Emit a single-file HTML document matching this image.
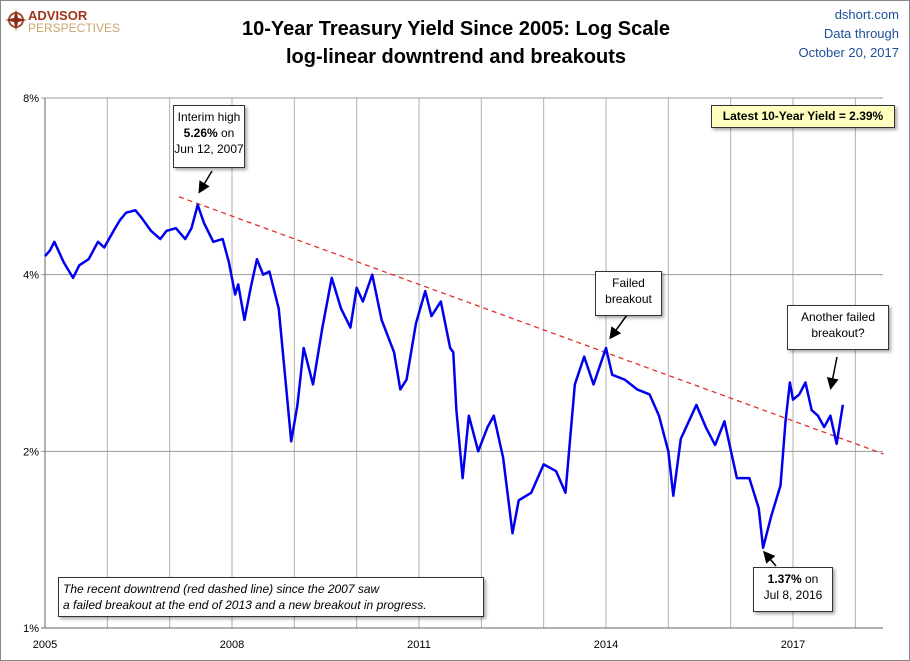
<!DOCTYPE html>
<html><head><meta charset="utf-8"><style>
body{margin:0;background:#fff;font-family:"Liberation Sans",sans-serif}
#c{position:absolute;left:0;top:0;width:908px;height:659px;border:1px solid #888;overflow:hidden}
.box{position:absolute;background:#fff;border:1px solid #333;font-size:12px;text-align:center;line-height:16px;box-shadow:2px 2px 3px rgba(0,0,0,.35)}
</style></head><body>
<div id="c">
<svg width="910" height="661" style="position:absolute;left:0;top:0">
<g>
<circle cx="15" cy="19" r="7" fill="none" stroke="#a0522d" stroke-width="2"/>
<path d="M15 8 L17 17 L26 19 L17 21 L15 30 L13 21 L4 19 L13 17 Z" fill="#8b2a1a"/>
<text x="27" y="19" font-size="13" font-weight="bold" fill="#a0351e">ADVISOR</text>
<text x="27" y="31" font-size="12" fill="#c9a66b">PERSPECTIVES</text>
</g>
<text x="455" y="34" text-anchor="middle" font-size="20" font-weight="bold" fill="#000">10-Year Treasury Yield Since 2005: Log Scale</text>
<text x="455" y="62" text-anchor="middle" font-size="20" font-weight="bold" fill="#000">log-linear downtrend and breakouts</text>
<text x="898" y="18" text-anchor="end" font-size="13" fill="#1f4e9a">dshort.com</text>
<text x="898" y="37" text-anchor="end" font-size="13" fill="#1f4e9a">Data through</text>
<text x="898" y="56" text-anchor="end" font-size="13" fill="#1f4e9a">October 20, 2017</text>
<g id="grid"></g><g id="axes"></g><g id="series"></g>
<defs><marker id="ah" markerWidth="8" markerHeight="8" refX="6" refY="4" orient="auto"><path d="M0,0 L8,4 L0,8 Z" fill="#000"/></marker></defs>
<g stroke="#000" stroke-width="1.5" marker-end="url(#ah)">
<line x1="211" y1="170" x2="199" y2="190"/>
<line x1="626" y1="314" x2="610" y2="336"/>
<line x1="836" y1="356" x2="830" y2="386"/>
<line x1="775" y1="565" x2="764" y2="552"/>
</g>
</svg>
<div class="box" style="left:172px;top:104px;width:70px;height:58px;padding-top:3px">Interim high<br><b>5.26%</b> on<br>Jun 12, 2007</div>
<div class="box" style="left:594px;top:270px;width:65px;height:40px;padding-top:3px">Failed<br>breakout</div>
<div class="box" style="left:786px;top:304px;width:100px;height:40px;padding-top:3px">Another failed<br>breakout?</div>
<div class="box" style="left:752px;top:566px;width:78px;height:40px;padding-top:3px"><b>1.37%</b> on<br>Jul 8, 2016</div>
<div class="box" style="left:710px;top:104px;width:182px;height:21px;line-height:21px;background:#ffffc0;font-weight:bold;font-size:12px">Latest 10-Year Yield = 2.39%</div>
<div class="box" style="left:57px;top:576px;width:426px;height:40px;padding-top:3px;text-align:left;padding-left:4px;font-style:italic;font-size:12px;box-sizing:border-box">The recent downtrend (red dashed line) since the 2007 saw<br>a failed breakout at the end of 2013 and a new breakout in progress.</div>
</div>
<script>
const dates=[2005.0,2005.08,2005.15,2005.3,2005.45,2005.55,2005.7,2005.85,2005.95,2006.1,2006.2,2006.3,2006.45,2006.55,2006.7,2006.85,2006.95,2007.1,2007.25,2007.35,2007.45,2007.55,2007.7,2007.85,2007.95,2008.05,2008.1,2008.2,2008.3,2008.4,2008.5,2008.6,2008.75,2008.85,2008.95,2009.05,2009.15,2009.3,2009.45,2009.6,2009.75,2009.9,2010.0,2010.1,2010.25,2010.4,2010.6,2010.7,2010.8,2010.95,2011.1,2011.2,2011.35,2011.5,2011.55,2011.6,2011.7,2011.8,2011.95,2012.1,2012.2,2012.35,2012.5,2012.6,2012.8,2013.0,2013.2,2013.35,2013.5,2013.65,2013.8,2014.0,2014.1,2014.3,2014.5,2014.7,2014.85,2015.0,2015.08,2015.2,2015.45,2015.6,2015.75,2015.9,2016.1,2016.3,2016.45,2016.52,2016.65,2016.8,2016.88,2016.95,2017.0,2017.1,2017.2,2017.3,2017.4,2017.5,2017.6,2017.7,2017.8];
const yields=[4.3,4.4,4.55,4.2,3.95,4.15,4.25,4.55,4.45,4.75,4.95,5.1,5.15,5.0,4.75,4.6,4.75,4.8,4.6,4.8,5.26,4.9,4.55,4.6,4.2,3.7,3.85,3.35,3.8,4.25,4.0,4.05,3.5,2.7,2.08,2.4,3.0,2.6,3.25,3.95,3.5,3.25,3.8,3.6,4.0,3.35,2.95,2.55,2.65,3.3,3.75,3.4,3.6,3.0,2.95,2.35,1.8,2.3,2.0,2.2,2.3,1.95,1.45,1.65,1.7,1.9,1.85,1.7,2.6,2.9,2.6,3.0,2.7,2.65,2.55,2.5,2.3,2.0,1.68,2.1,2.4,2.2,2.05,2.25,1.8,1.8,1.6,1.37,1.55,1.75,2.25,2.62,2.45,2.5,2.62,2.35,2.3,2.2,2.3,2.06,2.4];
const trendDates=[2007.15,2018.45];
const trendYields=[5.43,1.98];
const yTicks=[1,2,4,8];
const yTickLabels=["1%","2%","4%","8%"];
const xTicks=[2005,2008,2011,2014,2017];
const NS='http://www.w3.org/2000/svg';
const X0=44,X1=882,Y8=97,Y1=627;
function xs(d){return X0+(d-2005)*(605-44)/9;}
function ys(v){return Y1-(Math.log2(v))*(Y1-Y8)/3;}
function mk(t,a,p){const e=document.createElementNS(NS,t);for(const k in a)e.setAttribute(k,a[k]);p.appendChild(e);return e;}
const grid=document.getElementById('grid'),axes=document.getElementById('axes'),series=document.getElementById('series');
for(let yr=2005;yr<=2018;yr++){const l=mk('line',{x1:xs(yr),x2:xs(yr),y1:Y8,y2:Y1,stroke:'#b0b0b0','stroke-width':1},grid);

}
yTicks.forEach((v,i)=>{const l=mk('line',{x1:X0-4,x2:X1,y1:ys(v),y2:ys(v),stroke:i==0?'#666':'#999','stroke-width':1},grid);


const t=mk('text',{x:X0-6,y:ys(v)+4,'text-anchor':'end','font-size':11,fill:'#000'},axes);t.textContent=yTickLabels[i];

});
mk('line',{x1:X0,x2:X0,y1:Y8,y2:Y1,stroke:'#666'},axes);
xTicks.forEach(d=>{const t=mk('text',{x:xs(d),y:Y1+20,'text-anchor':'middle','font-size':11,fill:'#000'},axes);t.textContent=String(d);

});
const tr=mk('line',{x1:xs(trendDates[0]),y1:ys(trendYields[0]),x2:xs(trendDates[1]),y2:ys(trendYields[1]),stroke:'#e03030','stroke-width':1.3,'stroke-dasharray':'5,4'},series);


const p=mk('polyline',{points:dates.map((d,i)=>xs(d)+','+ys(yields[i])).join(' '),fill:'none',stroke:'#0000ee','stroke-width':2.5,'stroke-linejoin':'round'},series);


</script>
</body></html>
